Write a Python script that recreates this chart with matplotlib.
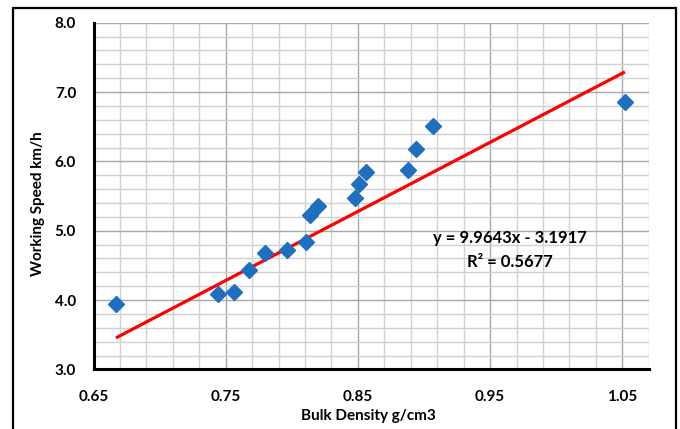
import matplotlib.pyplot as plt
import numpy as np
from matplotlib.patches import Rectangle

# bulk density (g/cm3) and working speed (km/h)
density = [0.667, 0.744, 0.756, 0.768, 0.780, 0.796, 0.811, 0.814, 0.820,
           0.848, 0.851, 0.856, 0.888, 0.894, 0.907, 1.052]
speed = [3.95, 4.08, 4.12, 4.43, 4.68, 4.72, 4.84, 5.23, 5.35,
         5.47, 5.68, 5.84, 5.87, 6.18, 6.51, 6.85]

# linear trendline as printed on the chart
slope = 9.9643
intercept = -3.1917
r2 = 0.5677

xticks = [0.65, 0.75, 0.85, 0.95, 1.05]
yticks = [3.0, 4.0, 5.0, 6.0, 7.0, 8.0]

plt.rcParams['font.family'] = ['Lato', 'DejaVu Sans']
plt.rcParams['font.weight'] = 'bold'

fig = plt.figure(figsize=(6.8, 4.29), dpi=100)
ax = fig.add_axes([0.1375, 0.139, 0.954 - 0.1375, 0.947 - 0.139])

# grid
ax.set_xlim(0.65, 1.07)
ax.set_ylim(3.0, 8.0)
ax.set_xticks(xticks)
ax.set_yticks(yticks)
ax.set_xticks(np.arange(0.65, 1.0701, 0.02), minor=True)
ax.set_yticks(np.arange(3.0, 8.001, 0.2), minor=True)
ax.grid(which='minor', color='#d0d0d0', lw=1.0)
ax.grid(which='major', color='#a8a8a8', lw=1.0)
ax.set_axisbelow(True)

xs = np.array([min(density), max(density)])
ax.plot(xs, slope * xs + intercept, color='#ff0000', lw=2.3, zorder=3,
        solid_capstyle='butt')
ax.plot(density, speed, 'D', color='#1f6fc0', markersize=8, zorder=4)

ax.set_xticklabels([f'{v:.2f}' for v in xticks])
ax.set_yticklabels([f'{v:.1f}' for v in yticks])
ax.tick_params(axis='both', which='both', length=0, labelsize=11)
ax.tick_params(axis='y', pad=12.5)
ax.tick_params(axis='x', pad=15)

for s in ['top', 'right']:
    ax.spines[s].set_visible(False)
for s in ['left', 'bottom']:
    ax.spines[s].set_linewidth(2.2)
    ax.spines[s].set_color('black')

ax.text(0.965, 4.90, f'y = {slope}x - {abs(intercept)}', ha='center',
        va='center', fontsize=12, fontweight='bold')
ax.text(0.965, 4.55, f'R² = {r2}', ha='center', va='center',
        fontsize=12, fontweight='bold')

fig.text(38 / 680, 1 - 204 / 429, 'Working Speed km/h', rotation=90,
         ha='center', va='center', fontsize=11, fontweight='bold')
fig.text(368 / 680, 1 - 416 / 429, 'Bulk Density g/cm3', ha='center',
         va='center', fontsize=11, fontweight='bold')

# outer chart border
fig.patches.append(Rectangle((13 / 680, -0.05), (676 - 13) / 680,
                             1 - 8 / 429 + 0.05, transform=fig.transFigure,
                             fill=False, edgecolor='black', lw=1.6))

fig.savefig('out.png', dpi=100)
